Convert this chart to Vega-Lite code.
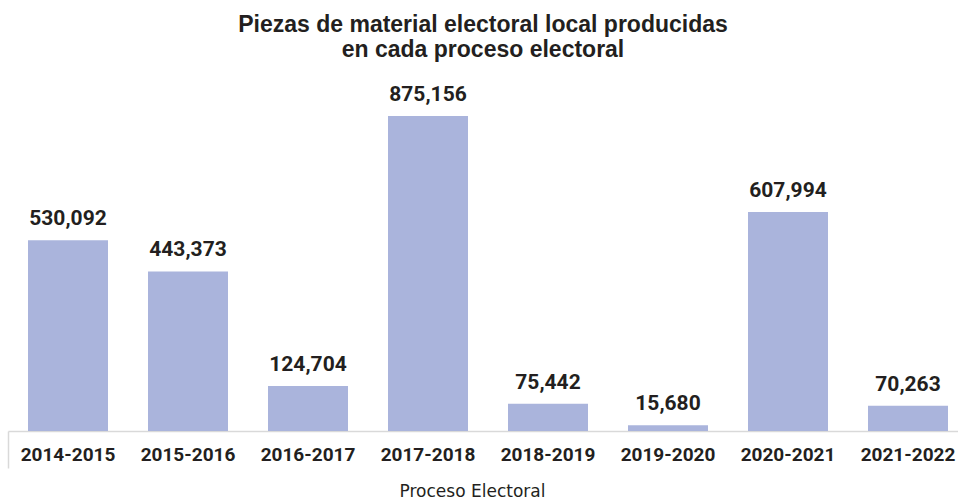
{
  "$schema": "https://vega.github.io/schema/vega-lite/v6.json",
  "width": 960,
  "height": 360,
  "autosize": "none",
  "padding": {"left": 8, "top": 71, "right": 0, "bottom": 73},
  "background": "white",
  "title": {
    "text": ["Piezas de material electoral local producidas", "en cada proceso electoral"],
    "font": "Liberation Sans",
    "fontSize": 23,
    "fontWeight": "bold",
    "color": "#231f20",
    "lineHeight": 25,
    "offset": 9,
    "anchor": "middle",
    "dx": -5
  },
  "data": {
    "values": [
      {"proceso": "2014-2015", "piezas": 530092},
      {"proceso": "2015-2016", "piezas": 443373},
      {"proceso": "2016-2017", "piezas": 124704},
      {"proceso": "2017-2018", "piezas": 875156},
      {"proceso": "2018-2019", "piezas": 75442},
      {"proceso": "2019-2020", "piezas": 15680},
      {"proceso": "2020-2021", "piezas": 607994},
      {"proceso": "2021-2022", "piezas": 70263}
    ]
  },
  "encoding": {
    "x": {
      "field": "proceso",
      "type": "nominal",
      "sort": null,
      "scale": {"paddingInner": 0.3333, "paddingOuter": 0.16667}
    },
    "y": {
      "field": "piezas",
      "type": "quantitative",
      "scale": {"domain": [0, 1000000], "nice": false},
      "axis": null
    }
  },
  "layer": [
    {
      "mark": {"type": "bar", "color": "#aab4dc"},
      "encoding": {
        "x": {
          "field": "proceso",
          "type": "nominal",
          "sort": null,
          "axis": {
            "orient": "bottom",
            "title": "Proceso Electoral",
            "titleFont": "DejaVu Sans",
            "titleFontWeight": "normal",
            "titleFontSize": 17,
            "titleColor": "#231f20",
            "titlePadding": 19,
            "titleX": 464,
            "labelAngle": 0,
            "labelFont": "Roboto",
            "labelFontWeight": "bold",
            "labelFontSize": 19,
            "labelColor": "#231f20",
            "labelPadding": 14,
            "ticks": false,
            "domainColor": "#d9d9d9",
            "domainWidth": 1.5,
            "grid": false
          }
        }
      }
    },
    {
      "mark": {
        "type": "text",
        "baseline": "bottom",
        "dy": -11,
        "font": "Roboto",
        "fontWeight": "bold",
        "fontSize": 21,
        "color": "#231f20"
      },
      "encoding": {
        "x": {
          "field": "proceso",
          "type": "nominal",
          "sort": null,
          "axis": {
            "orient": "bottom",
            "values": ["2014-2015"],
            "labels": false,
            "title": null,
            "domain": false,
            "ticks": true,
            "tickOffset": -60,
            "tickSize": 37,
            "tickColor": "#d9d9d9",
            "tickWidth": 1.5,
            "grid": false
          }
        },
        "text": {"field": "piezas", "type": "quantitative", "format": ",d"}
      }
    }
  ],
  "resolve": {"axis": {"x": "independent"}},
  "config": {"view": {"stroke": null}}
}
